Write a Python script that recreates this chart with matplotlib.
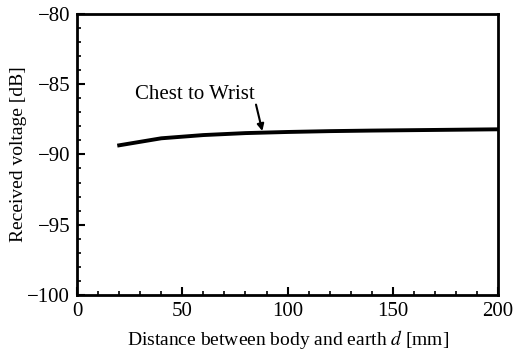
import numpy as np
import matplotlib.pyplot as plt
from matplotlib.ticker import MultipleLocator

plt.rcParams['font.family'] = ['Liberation Serif', 'DejaVu Serif']
plt.rcParams['mathtext.fontset'] = 'stix'

# данные: расстояние до земли и принятое напряжение
distance = [20, 40, 60, 80, 100, 120, 140, 160, 180, 200]
voltage = [-89.35, -88.85, -88.62, -88.48, -88.40, -88.34, -88.30, -88.27, -88.24, -88.21]
label = 'Chest to Wrist'

fig = plt.figure(figsize=(5.14, 3.51), dpi=100)
ax = fig.add_axes([0.150, 0.160, 0.819, 0.800])

ax.plot(distance, voltage, color='black', linewidth=2.8)

# подпись и стрелка
ax.text(27.5, -85.75, label, fontsize=15, va='center')
ax.annotate('', xy=(88, -88.33), xytext=(85, -86.45),
            arrowprops=dict(arrowstyle='-|>', color='black', lw=1.5,
                            shrinkA=0, shrinkB=0, mutation_scale=10))

ax.set_xlim(0, 200)
ax.set_ylim(-100, -80)
ax.xaxis.set_major_locator(MultipleLocator(50))
ax.xaxis.set_minor_locator(MultipleLocator(10))
ax.yaxis.set_major_locator(MultipleLocator(5))
ax.yaxis.set_minor_locator(MultipleLocator(1))
ax.tick_params(which='both', direction='in', labelsize=15, pad=5)
ax.tick_params(which='major', length=6, width=1.5)
ax.tick_params(which='minor', length=3, width=1.2)
for s in ax.spines.values():
    s.set_linewidth(2)

ax.set_xlabel('Distance between body and earth $d$ [mm]', fontsize=14, labelpad=5)
ax.set_ylabel('Received voltage [dB]', fontsize=14)
ax.yaxis.set_label_coords(-0.118, 0.5)

fig.savefig('out.png', dpi=100)
